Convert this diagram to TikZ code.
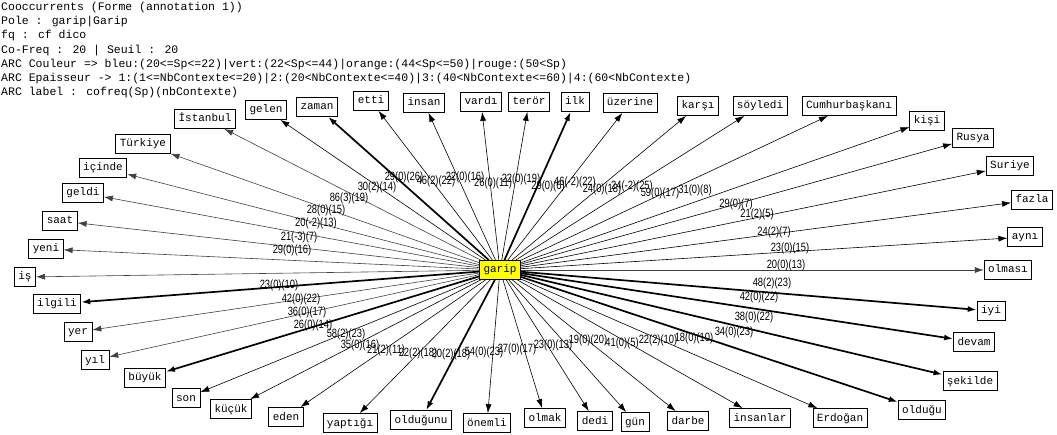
\documentclass[tikz,border=0pt]{standalone}
\usepackage{fontspec}
\usepackage{tikz}
\usetikzlibrary{arrows.meta}
\newfontfamily\boxfont{Liberation Mono}
\newfontfamily\lblfont[FakeStretch=0.78]{Liberation Sans}
\definecolor{PoleYellow}{HTML}{FFFF00}
\definecolor{ArcGray}{HTML}{404040}

\begin{document}
\begin{tikzpicture}[
	x=1pt, y=-1pt,
	word/.style={
		draw=black,
		fill=white,
		line width=0.8pt,
		font=\boxfont\fontsize{11}{11}\selectfont,
		inner xsep=4pt,
		inner ysep=4pt,
		text height=8.5pt,
		text depth=2.5pt
	},
	pole/.style={
		word,
		fill=PoleYellow
	},
	arc/.style={
		-{Latex[length=9pt,width=6pt]},
		line width=0.6pt,
		draw=black
	},
	arcgray/.style={
		arc,
		draw=ArcGray
	},
	arcthick/.style={
		arc,
		line width=1.7pt
	},
	elab/.style={
		font=\lblfont\fontsize{12}{12}\selectfont,
		inner sep=0pt
	}
]
\useasboundingbox (0,0) rectangle (1057,435);

\node[anchor=north west, align=left, inner sep=0pt,
	font=\boxfont\fontsize{11.5}{14.2}\selectfont] (legend) at (1,2)
	{Cooccurrents (Forme (annotation 1))\\
	Pole : garip|Garip\\
	fq : cf dico\\
	Co-Freq : 20 | Seuil : 20\\
	ARC Couleur => bleu:(20<=Sp<=22)|vert:(22<Sp<=44)|orange:(44<Sp<=50)|rouge:(50<Sp)\\
	ARC Epaisseur -> 1:(1<=NbContexte<=20)|2:(20<NbContexte<=40)|3:(40<NbContexte<=60)|4:(60<NbContexte)\\
	ARC label : cofreq(Sp)(nbContexte)};

% pole
\node[pole] (garip) at (500,270) {garip};

% cooccurrents, clockwise from the left
\node[word] (is) at (25,277) {iş};
\node[word] (yeni) at (46,249) {yeni};
\node[word] (saat) at (60,221) {saat};
\node[word] (geldi) at (83,193) {geldi};
\node[word] (icinde) at (103,168) {içinde};
\node[word] (turkiye) at (143,144) {Türkiye};
\node[word] (istanbul) at (205,119) {İstanbul};
\node[word] (gelen) at (266,110) {gelen};
\node[word] (zaman) at (317,107) {zaman};
\node[word] (etti) at (371,101) {etti};
\node[word] (insan) at (424,103) {insan};
\node[word] (vardi) at (481,102) {vardı};
\node[word] (teror) at (529,102) {terör};
\node[word] (ilk) at (575,102) {ilk};
\node[word] (uzerine) at (630,103) {üzerine};
\node[word] (karsi) at (698,106) {karşı};
\node[word] (soyledi) at (760,106) {söyledi};
\node[word] (cumhur) at (849,106) {Cumhurbaşkanı};
\node[word] (kisi) at (927,121) {kişi};
\node[word] (rusya) at (973,138) {Rusya};
\node[word] (suriye) at (1010,166) {Suriye};
\node[word] (fazla) at (1032,200) {fazla};
\node[word] (ayni) at (1025,237) {aynı};
\node[word] (olmasi) at (1008,270) {olması};
\node[word] (iyi) at (991,311) {iyi};
\node[word] (devam) at (974,342) {devam};
\node[word] (sekilde) at (970,381) {şekilde};
\node[word] (oldugu) at (922,410) {olduğu};
\node[word] (erdogan) at (840,418) {Erdoğan};
\node[word] (insanlar) at (760,418) {insanlar};
\node[word] (darbe) at (688,421) {darbe};
\node[word] (gun) at (635,422) {gün};
\node[word] (dedi) at (595,421) {dedi};
\node[word] (olmak) at (545,418) {olmak};
\node[word] (onemli) at (487,423) {önemli};
\node[word] (oldugunu) at (421,420) {olduğunu};
\node[word] (yaptigi) at (350,423) {yaptığı};
\node[word] (eden) at (286,417) {eden};
\node[word] (kucuk) at (231,409) {küçük};
\node[word] (son) at (186,398) {son};
\node[word] (buyuk) at (145,378) {büyük};
\node[word] (yil) at (95,360) {yıl};
\node[word] (yer) at (78,332) {yer};
\node[word] (ilgili) at (57,304) {ilgili};

% arcs
\draw[arcgray] (garip) -- (is);
\draw[arcgray] (garip) -- (yeni);
\draw[arcgray] (garip) -- (saat);
\draw[arcgray] (garip) -- (geldi);
\draw[arcgray] (garip) -- (icinde);
\draw[arcgray] (garip) -- (turkiye);
\draw[arcgray] (garip) -- (istanbul);
\draw[arc] (garip) -- (gelen);
\draw[arcthick] (garip) -- (zaman);
\draw[arc] (garip) -- (etti);
\draw[arc] (garip) -- (insan);
\draw[arc] (garip) -- (vardi);
\draw[arc] (garip) -- (teror);
\draw[arcthick] (garip) -- (ilk);
\draw[arc] (garip) -- (uzerine);
\draw[arc] (garip) -- (karsi);
\draw[arc] (garip) -- (soyledi);
\draw[arc] (garip) -- (cumhur);
\draw[arc] (garip) -- (kisi);
\draw[arc] (garip) -- (rusya);
\draw[arc] (garip) -- (suriye);
\draw[arc] (garip) -- (fazla);
\draw[arc] (garip) -- (ayni);
\draw[arcgray] (garip) -- (olmasi);
\draw[arcthick] (garip) -- (iyi);
\draw[arcthick] (garip) -- (devam);
\draw[arcthick] (garip) -- (sekilde);
\draw[arcthick] (garip) -- (oldugu);
\draw[arc] (garip) -- (erdogan);
\draw[arc] (garip) -- (insanlar);
\draw[arc] (garip) -- (darbe);
\draw[arc] (garip) -- (gun);
\draw[arc] (garip) -- (dedi);
\draw[arc] (garip) -- (olmak);
\draw[arc] (garip) -- (onemli);
\draw[arcthick] (garip) -- (oldugunu);
\draw[arc] (garip) -- (yaptigi);
\draw[arc] (garip) -- (eden);
\draw[arc] (garip) -- (kucuk);
\draw[arc] (garip) -- (son);
\draw[arcthick] (garip) -- (buyuk);
\draw[arcgray] (garip) -- (yil);
\draw[arcgray] (garip) -- (yer);
\draw[arcthick] (garip) -- (ilgili);

% arc labels
\node[elab] (l-is) at (279,285) {23(0)(10)};
\node[elab] (l-yeni) at (292,250) {29(0)(16)};
\node[elab] (l-saat) at (299,237) {21(-3)(7)};
\node[elab] (l-geldi) at (316,223) {20(-2)(13)};
\node[elab] (l-icinde) at (326,210) {28(0)(15)};
\node[elab] (l-turkiye) at (349,198) {86(3)(19)};
\node[elab] (l-istanbul) at (377,187) {30(2)(14)};
\node[elab] (l-zaman) at (404,177) {29(0)(26)};
\node[elab] (l-etti) at (436,181) {46(2)(22)};
\node[elab] (l-insan) at (465,177) {22(0)(16)};
\node[elab] (l-vardi) at (493,183) {26(0)(11)};
\node[elab] (l-teror) at (521,179) {22(0)(19)};
\node[elab] (l-ilk) at (548,186) {29(0)(6)};
\node[elab] (l-uzerine) at (575,182) {46(-2)(22)};
\node[elab] (l-karsi) at (602,189) {24(0)(18)};
\node[elab] (l-soyledi) at (632,186) {24(-2)(25)};
\node[elab] (l-cumhur) at (660,193) {59(0)(17)};
\node[elab] (l-kisi) at (695,190) {31(0)(8)};
\node[elab] (l-rusya) at (736,204) {29(0)(7)};
\node[elab] (l-suriye) at (757,214) {21(2)(5)};
\node[elab] (l-fazla) at (774,232) {24(2)(7)};
\node[elab] (l-ayni) at (790,248) {23(0)(15)};
\node[elab] (l-olmasi) at (786,265) {20(0)(13)};
\node[elab] (l-iyi) at (772,283) {48(2)(23)};
\node[elab] (l-devam) at (759,297) {42(0)(22)};
\node[elab] (l-sekilde) at (754,317) {38(0)(22)};
\node[elab] (l-oldugu) at (734,332) {34(0)(23)};
\node[elab] (l-insanlar) at (694,338) {18(0)(10)};
\node[elab] (l-darbe) at (658,340) {22(2)(10)};
\node[elab] (l-gun) at (622,343) {41(0)(5)};
\node[elab] (l-dedi) at (588,340) {19(0)(20)};
\node[elab] (l-olmak) at (553,345) {23(0)(13)};
\node[elab] (l-onemli) at (517,349) {27(0)(17)};
\node[elab] (l-oldugunu) at (484,352) {54(0)(23)};
\node[elab] (l-yaptigi) at (451,354) {20(2)(18)};
\node[elab] (l-eden) at (418,353) {22(2)(18)};
\node[elab] (l-kucuk) at (386,350) {21(2)(11)};
\node[elab] (l-son) at (360,345) {35(0)(16)};
\node[elab] (l-buyuk) at (346,334) {58(2)(23)};
\node[elab] (l-yil) at (313,325) {26(0)(14)};
\node[elab] (l-yer) at (307,312) {36(0)(17)};
\node[elab] (l-ilgili) at (301,299) {42(0)(22)};

\end{tikzpicture}
\end{document}
